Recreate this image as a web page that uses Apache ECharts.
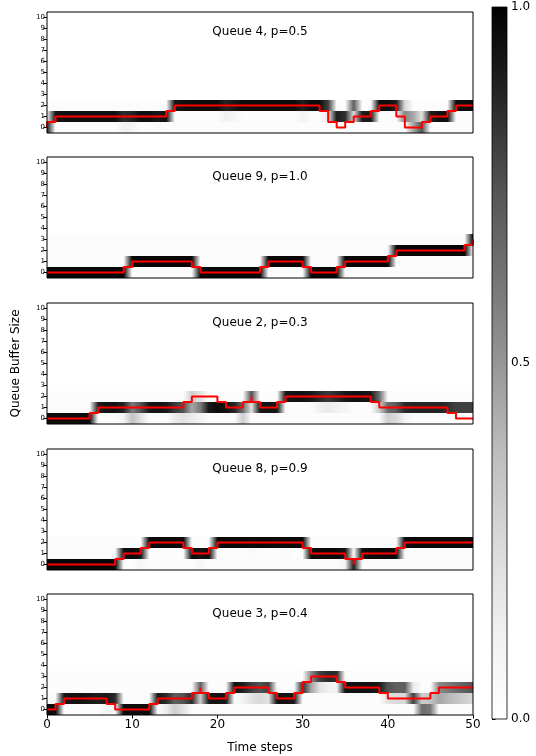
<!DOCTYPE html>
<html>
<head>
<meta charset="utf-8">
<script src="https://cdn.jsdelivr.net/npm/echarts@6/dist/echarts.min.js"></script>
<style>
  html, body { margin: 0; padding: 0; background: #fff; }
  #chart { width: 536px; height: 756px; }
</style>
</head>
<body>
<div id="chart"></div>
<script>
// ---- data -------------------------------------------------------------
const queueTitles = ['Queue 4, p=0.5', 'Queue 9, p=1.0', 'Queue 2, p=0.3', 'Queue 8, p=0.9', 'Queue 3, p=0.4'];
const bufferLabels = ['0', '1', '2', '3', '4', '5', '6', '7', '8', '9', '10'];
const colorbarTicks = [0, 0.5, 1];
// highest buffer row that carries any predicted probability, per queue
const supportRows = [2, 3, 2, 2, 3];
const supportFloor = 0.025;

// Queue 4: true buffer size per step, predicted most likely size, its probability, other notable cells [t, size, p]
const q4Truth = [0, 1,1,1,1,1,1,1,1,1,1,1,1,1,1, 2,2,2,2,2,2,2,2,2,2,2,2,2,2,2,2,2,2, 1, 0,0, 1,1,1, 2,2,2, 0,0,0, 1,1,1, 2,2,2];
const q4Mode  = [0, 1,1,1,1,1,1,1,1,1,1,1,1,1,1, 2,2,2,2,2,2,2,2,2,2,2,2,2,2,2,2,2,2,2, 1,1, 2, 1,1, 2,2,2, 1,1, 0, 1,1,1, 2,2,2];
const q4Prob  = [0.9, 0.93,0.95,0.95,0.95,0.95,0.95,0.95,0.95,0.85,0.88,0.95,0.95,0.92,0.95,
                 0.93,0.95,0.96,0.96,0.96,0.96,0.88,0.92,0.96,0.96,0.96,0.96,0.96,0.96,0.96,0.9,0.96,0.96,0.8,
                 0.9,0.85,0.7,0.9,0.92,0.95,0.96,0.9,0.55,0.45,0.75,0.9,0.95,0.95,0.95,0.96,0.96];
const q4Extras = [[0,1,0.1],[9,0,0.12],[10,0,0.1],[13,0,0.06],[21,1,0.12],[22,1,0.08],[30,1,0.1],
                  [33,1,0.15],[36,1,0.25],[42,2,0.25],[43,0,0.45],[44,1,0.2]];

// Queue 9
const q9Truth = [0,0,0,0,0,0,0,0,0,0, 1,1,1,1,1,1,1,1, 0,0,0,0,0,0,0,0, 1,1,1,1,1, 0,0,0,0, 1,1,1,1,1,1, 2,2,2,2,2,2,2,2,2, 3];
const q9Mode  = [0,0,0,0,0,0,0,0,0,0, 1,1,1,1,1,1,1,1, 0,0,0,0,0,0,0,0, 1,1,1,1,1, 0,0,0,0, 1,1,1,1,1,1, 2,2,2,2,2,2,2,2,2, 3];
const q9Prob  = [0.98,0.98,0.98,0.98,0.98,0.98,0.98,0.98,0.98,0.98, 0.97,0.98,0.98,0.98,0.98,0.98,0.98,0.98,
                 0.97,0.98,0.98,0.98,0.98,0.98,0.98,0.98, 0.97,0.98,0.98,0.98,0.98, 0.97,0.98,0.98,0.98,
                 0.97,0.98,0.98,0.98,0.98,0.98, 0.97,0.98,0.98,0.98,0.98,0.98,0.98,0.98,0.98, 0.96];
const q9Extras = [];

// Queue 2
const q2Truth = [0,0,0,0,0,0, 1,1,1,1,1,1,1,1,1,1,1, 2,2,2,2, 1,1,1, 2, 1,1,1, 2,2,2,2,2,2,2,2,2,2,2, 1,1,1,1,1,1,1,1,1, 0,0,0];
const q2Mode  = [0,0,0,0,0,0, 1,1,1,1,1,1,1,1,1,1,1,1,1,1,1,1,1,1, 2, 1,1,1, 2,2,2,2,2,2,2,2,2,2,2,2, 1,1,1,1,1,1,1,1,1,1,1];
const q2Prob  = [0.96,0.96,0.96,0.96,0.96,0.96,
                 0.9,0.94,0.94,0.88,0.6,0.75,0.92,0.94,0.92,0.82,0.75,
                 0.45,0.6,0.92,0.96,0.94,0.88,0.65, 0.75, 0.92,0.94,0.92,
                 0.92,0.94,0.94,0.92,0.86,0.82,0.86,0.92,0.94,0.94,0.92,0.65,
                 0.65,0.72,0.86,0.88,0.88,0.88,0.88,0.85,0.8,0.8,0.8];
const q2Extras = [[9,0,0.1],[10,0,0.35],[11,0,0.2],[15,0,0.15],[16,0,0.2],[17,2,0.3],[18,2,0.2],[17,0,0.15],[18,0,0.1],
                  [23,0,0.3],[24,1,0.2],[32,1,0.12],[33,1,0.15],[34,1,0.12],[35,1,0.08],[39,1,0.3],
                  [40,0,0.3],[41,0,0.25],[42,0,0.1]];

// Queue 8
const q8Truth = [0,0,0,0,0,0,0,0,0, 1,1,1, 2,2,2,2,2, 1,1,1, 2,2,2,2,2,2,2,2,2,2,2, 1,1,1,1,1, 0, 1,1,1,1,1, 2,2,2,2,2,2,2,2,2];
const q8Mode  = [0,0,0,0,0,0,0,0,0, 1,1,1, 2,2,2,2,2, 1,1,1, 2,2,2,2,2,2,2,2,2,2,2, 1,1,1,1,1, 0, 1,1,1,1,1, 2,2,2,2,2,2,2,2,2];
const q8Prob  = [0.98,0.98,0.98,0.98,0.98,0.98,0.98,0.98,0.98, 0.94,0.97,0.93, 0.96,0.97,0.97,0.97,0.97,
                 0.96,0.93,0.97, 0.96,0.97,0.97,0.97,0.96,0.97,0.97,0.96,0.97,0.97,0.97,
                 0.96,0.97,0.97,0.97,0.93, 0.9, 0.94,0.97,0.97,0.97,0.97, 0.95,0.97,0.97,0.97,0.97,0.97,0.97,0.97,0.97];
const q8Extras = [[11,0,0.08],[18,0,0.08],[24,1,0.05],[28,1,0.05],[35,0,0.1]];

// Queue 3
const q3Truth = [0,0, 1,1,1,1,1,1, 0,0,0,0,0, 1,1,1,1,1, 2, 1,1,1, 2,2,2,2,2, 1,1,1, 2, 3,3,3,3, 2,2,2,2,2, 1,1,1,1,1,1, 2,2,2,2,2];
const q3Mode  = [0,0, 1,1,1,1,1,1,1, 0,0,0,0, 1,1,1,1,1, 2, 1,1,1, 2,2,2,2,2, 1,1,1, 2, 3,3,3,3, 2,2,2,2,2,2,2,2, 1, 0,0, 2,2,2,2,2];
const q3Prob  = [0.96,0.96, 0.92,0.94,0.94,0.92,0.9,0.92,0.86, 0.96,0.96,0.96,0.96,
                 0.92,0.86,0.7,0.75,0.86, 0.7, 0.92,0.94,0.92, 0.94,0.9,0.8,0.75,0.8,
                 0.94,0.94,0.92, 0.86, 0.55,0.8,0.86,0.86,
                 0.94,0.94,0.94,0.94,0.92,0.75,0.7,0.7, 0.8, 0.65,0.6, 0.55,0.6,0.65,0.7,0.75];
const q3Extras = [[1,1,0.05],[7,0,0.1],[14,0,0.15],[15,0,0.3],[16,0,0.2],[18,1,0.3],
                  [23,1,0.1],[24,1,0.2],[25,1,0.25],[26,1,0.2],
                  [31,2,0.45],[32,2,0.2],[33,2,0.12],[34,2,0.1],
                  [40,1,0.2],[41,1,0.25],[42,1,0.25],[43,2,0.15],[44,1,0.3],[45,1,0.35],
                  [46,1,0.45],[47,1,0.4],[48,1,0.35],[49,1,0.3],[50,1,0.25]];

// ---- styling / layout -------------------------------------------------
const FONT = '"DejaVu Sans", sans-serif';
const greysRamp = [255, 240, 217, 189, 150, 115, 82, 37, 0]; // matplotlib "Greys"
const plotLeft = 47, plotWidth = 426, plotHeight = 121;
const plotTops = [12, 157, 303, 449, 594];
const barLeft = 492, barTop = 7, barWidth = 15, barHeight = 712;

function greys(p) {
  const v = Math.max(0, Math.min(1, p)) * (greysRamp.length - 1);
  const i = Math.min(Math.floor(v), greysRamp.length - 2);
  const f = v - i;
  const g = Math.round(greysRamp[i] + (greysRamp[i + 1] - greysRamp[i]) * f);
  return 'rgb(' + g + ',' + g + ',' + g + ')';
}

const panels = [
  { truth: q4Truth, mode: q4Mode, prob: q4Prob, extras: q4Extras },
  { truth: q9Truth, mode: q9Mode, prob: q9Prob, extras: q9Extras },
  { truth: q2Truth, mode: q2Mode, prob: q2Prob, extras: q2Extras },
  { truth: q8Truth, mode: q8Mode, prob: q8Prob, extras: q8Extras },
  { truth: q3Truth, mode: q3Mode, prob: q3Prob, extras: q3Extras }
];

// probability matrix [size][step] for one queue
function buildMatrix(panel, top) {
  const steps = panel.mode.length;
  const m = bufferLabels.map((_, r) => new Array(steps).fill(r <= top ? supportFloor : 0));
  panel.mode.forEach((r, t) => { m[r][t] = panel.prob[t]; });
  panel.extras.forEach(([t, r, p]) => { m[r][t] = p; });
  return m;
}

// one strip per buffer size; colour interpolated between step centres
function stripRenderer(m) {
  return function (params, api) {
    const r = api.value(1);
    const row = m[r];
    const n = row.length;
    const a = api.coord([-0.5, r]);
    const b = api.coord([n - 0.5, r]);
    const h = api.size([1, 1])[1];
    const stops = row.map((p, t) => ({ offset: (t + 0.5) / n, color: greys(p) }));
    stops.unshift({ offset: 0, color: greys(row[0]) });
    stops.push({ offset: 1, color: greys(row[n - 1]) });
    return {
      type: 'rect',
      shape: { x: a[0], y: a[1] - h / 2, width: b[0] - a[0], height: h },
      style: { fill: new echarts.graphic.LinearGradient(0, 0, 1, 0, stops) }
    };
  };
}

const grids = [], xAxes = [], yAxes = [], series = [], graphics = [];

panels.forEach((panel, i) => {
  const m = buildMatrix(panel, supportRows[i]);
  grids.push({
    left: plotLeft, top: plotTops[i], width: plotWidth, height: plotHeight,
    show: true, z: 10, backgroundColor: 'transparent', borderColor: '#000', borderWidth: 1
  });
  const last = i === panels.length - 1;
  xAxes.push({
    gridIndex: i, type: 'value', min: 0, max: 50, interval: 10,
    axisLine: { show: false },
    axisTick: { show: last, length: 3.5, lineStyle: { color: '#000', width: 1 } },
    axisLabel: { show: last, fontSize: 12, color: '#000', margin: 4, fontFamily: FONT },
    splitLine: { show: false }
  });
  yAxes.push({
    gridIndex: i, type: 'category', data: bufferLabels, boundaryGap: true,
    axisLine: { show: false },
    axisTick: { show: true, alignWithLabel: true, interval: 0, length: 3.5, lineStyle: { color: '#000', width: 1 } },
    axisLabel: { interval: 0, fontSize: 7, color: '#000', margin: 2, fontFamily: FONT },
    splitLine: { show: false }
  });
  const strips = [];
  for (let r = 0; r <= supportRows[i]; r++) strips.push([0, r]);
  series.push({
    type: 'custom', xAxisIndex: i, yAxisIndex: i, data: strips,
    encode: { x: 0, y: 1 },
    renderItem: stripRenderer(m), clip: true, silent: true, z: 1
  });
  series.push({
    type: 'line', xAxisIndex: i, yAxisIndex: i,
    data: panel.truth.map((v, t) => [t, v]),
    step: 'middle', symbol: 'none', silent: true, clip: true, z: 5,
    lineStyle: { color: '#ff0000', width: 2 }
  });
  graphics.push({
    type: 'text', x: plotLeft + plotWidth / 2, y: plotTops[i] + 20, silent: true,
    style: { text: queueTitles[i], font: '12px ' + FONT, fill: '#000', align: 'center', verticalAlign: 'middle' }
  });
});

// colour bar
grids.push({ left: barLeft, top: barTop, width: barWidth, height: barHeight });
xAxes.push({ gridIndex: 5, type: 'value', min: 0, max: 1, show: false });
yAxes.push({
  gridIndex: 5, type: 'value', min: colorbarTicks[0], max: colorbarTicks[2], interval: colorbarTicks[1],
  position: 'right',
  axisLine: { show: false },
  axisTick: { show: true, length: 3.5, lineStyle: { color: '#000', width: 1 } },
  axisLabel: { formatter: v => v.toFixed(1), fontSize: 12, color: '#000', margin: 4, fontFamily: FONT },
  splitLine: { show: false }
});
series.push({
  type: 'custom', xAxisIndex: 5, yAxisIndex: 5, data: [[0, 0]], silent: true,
  renderItem: function (params, api) {
    const a = api.coord([0, 1]);
    const b = api.coord([1, 0]);
    const stops = greysRamp.map((_, k) => ({ offset: k / (greysRamp.length - 1), color: greys(1 - k / (greysRamp.length - 1)) }));
    return {
      type: 'rect',
      shape: { x: a[0], y: a[1], width: b[0] - a[0], height: b[1] - a[1] },
      style: { fill: new echarts.graphic.LinearGradient(0, 0, 0, 1, stops), stroke: '#000', lineWidth: 0.8 }
    };
  }
});

// shared axis titles
graphics.push({
  type: 'text', x: 16, y: (plotTops[0] + plotTops[4] + plotHeight) / 2, rotation: Math.PI / 2, silent: true,
  style: { text: 'Queue Buffer Size', font: '12px ' + FONT, fill: '#000', align: 'center', verticalAlign: 'middle' }
});
graphics.push({
  type: 'text', x: plotLeft + plotWidth / 2, y: 748, silent: true,
  style: { text: 'Time steps', font: '12px ' + FONT, fill: '#000', align: 'center', verticalAlign: 'middle' }
});

const chart = echarts.init(document.getElementById('chart'), null, { renderer: 'canvas' });
chart.setOption({
  animation: false,
  backgroundColor: '#fff',
  textStyle: { fontFamily: FONT },
  grid: grids,
  xAxis: xAxes,
  yAxis: yAxes,
  series: series,
  graphic: graphics
});
</script>
</body>
</html>
